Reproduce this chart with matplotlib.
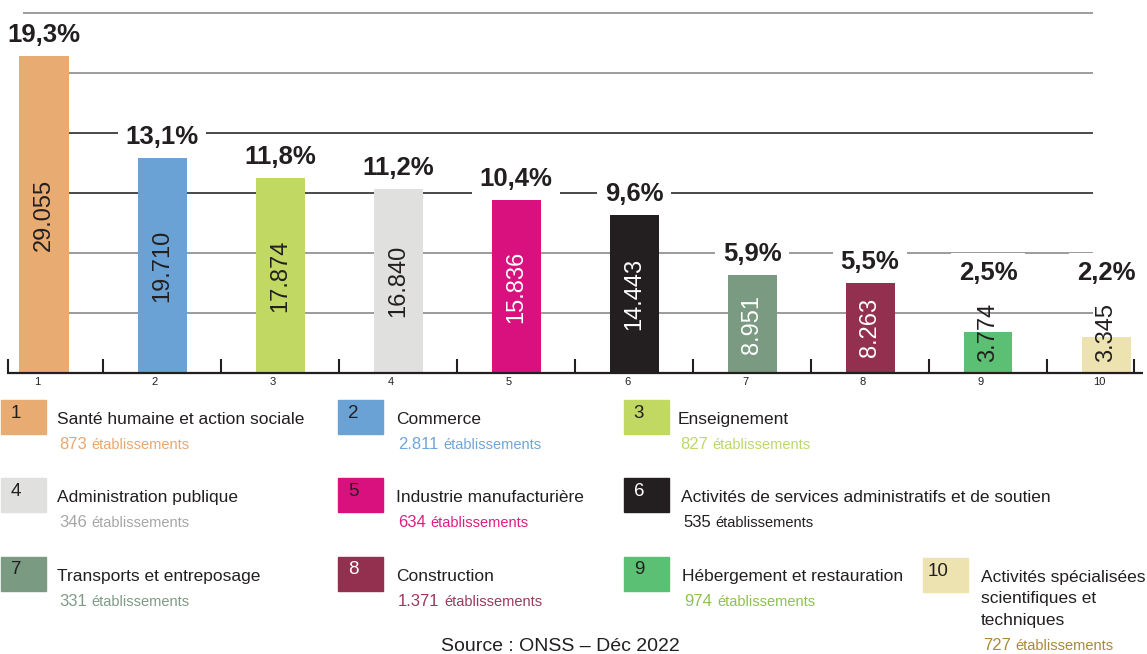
import numpy as np
import matplotlib
matplotlib.use("Agg")
import matplotlib.pyplot as plt
from matplotlib.patches import Rectangle

plt.rcParams['font.family'] = ['Liberation Sans', 'DejaVu Sans']

sectors = ['Santé humaine et action sociale', 'Commerce', 'Enseignement',
           'Administration publique', 'Industrie manufacturière',
           'Activités de services administratifs et de soutien',
           'Transports et entreposage', 'Construction',
           'Hébergement et restauration',
           'Activités spécialisées\nscientifiques et\ntechniques']
employees = [29055, 19710, 17874, 16840, 15836, 14443, 8951, 8263, 3774, 3345]
shares = [19.3, 13.1, 11.8, 11.2, 10.4, 9.6, 5.9, 5.5, 2.5, 2.2]
establishments = [873, 2811, 827, 346, 634, 535, 331, 1371, 974, 727]

bar_colors = ['#E8AC72', '#6AA2D6', '#C1D962', '#E0E0DF', '#D8117E',
              '#231F20', '#7A9A82', '#93304F', '#5BBF74', '#EDE3B1']
count_colors = ['#EBA66F', '#6FA5DA', '#BCD86A', '#A6A6A6', '#DC1E85',
                '#231F20', '#7E9B85', '#9A3A58', '#8DC150', '#A98838']
value_colors = ['#231F20'] * 4 + ['white'] * 4 + ['#231F20'] * 2
box_num_colors = ['#231F20'] * 5 + ['white', '#231F20', 'white', '#231F20', '#231F20']
dark = '#231F20'

W, H = 1147, 654
fig = plt.figure(figsize=(W / 100, H / 100), dpi=100)

# chart area: baseline 373 px from the top
base_px = 373
step_px, first_px = 118.0, 44.0
px_per_unit = 60 / 5500
ax = fig.add_axes([0, 1 - base_px / H, 1, base_px / H])
ax.set_axis_off()
ax.set_xlim(-first_px / step_px, (W - first_px) / step_px)
ax.set_ylim(0, base_px / px_per_unit)

x = np.arange(len(employees))
ax.bar(x, employees, width=49 / step_px, color=bar_colors, zorder=3)

# horizontal rules (bottom to top)
grid_colors = ['#8a8a8a', '#8a8a8a', '#2b2b2b', '#2b2b2b', '#8c8c8c', '#8c8c8c']
for k, c in enumerate(grid_colors, 1):
    ax.hlines(5500 * k, (23 - first_px) / step_px, (1093 - first_px) / step_px,
              color=c, lw=1.2, zorder=1)

# base axis with ticks between bars
ax.hlines(0, (7 - first_px) / step_px, (1143 - first_px) / step_px,
          color=dark, lw=1.6, zorder=5, clip_on=False)
tick_x = [(8 - first_px) / step_px] + list(x[:-1] + 0.5) + [(1134 - first_px) / step_px]
ax.vlines(tick_x, 0, 14 / px_per_unit, color=dark, lw=1.5, zorder=5, clip_on=False)
for i in x:
    ax.annotate(str(i + 1), (i, 0), xytext=(-5, -3), textcoords='offset points',
                ha='center', va='top', fontsize=8, color=dark, annotation_clip=False)

for i, (v, s) in enumerate(zip(employees, shares)):
    h_px = v * px_per_unit
    label = f'{v:,}'.replace(',', '.')
    if h_px > 80:
        ax.text(i, v / 2, label, rotation=90, ha='center', va='center',
                fontsize=17, color=value_colors[i], zorder=6)
    else:
        ax.text(i, 11 / px_per_unit, label, rotation=90, ha='center', va='bottom',
                fontsize=17, color=value_colors[i], zorder=6)
    top_px = max(h_px + 21, 100)
    ax.text(i, top_px / px_per_unit, f'{s:.1f}%'.replace('.', ','),
            ha='center', va='center', fontsize=18.5, fontweight='bold', color=dark,
            bbox=dict(boxstyle='square,pad=0.3', fc='white', ec='none'), zorder=2)

# legend block (pixel layout)
box_x = [1, 338, 624, 1, 338, 624, 1, 338, 624, 923]
box_y = [400, 400, 400, 478, 478, 478, 557, 557, 557, 558]
text_x = [57, 396, 678, 57, 396, 681, 57, 396, 682, 981]


def fx(px):
    return px / W


def fy(py):
    return 1 - py / H


renderer = fig.canvas.get_renderer()
for i, name in enumerate(sectors):
    bx, by = box_x[i], box_y[i]
    fig.add_artist(Rectangle((fx(bx), fy(by + 34)), 45 / W, 34 / H,
                             transform=fig.transFigure, color=bar_colors[i]))
    fig.text(fx(bx + 15), fy(by + 13), str(i + 1), ha='center', va='center',
             fontsize=13.5, color=box_num_colors[i])
    lines = name.split('\n')
    base = by + 24
    for j, line in enumerate(lines):
        fig.text(fx(text_x[i]), fy(base + j * 21.5), line, ha='left', va='baseline',
                 fontsize=12.5, color=dark)
    sub_base = base + (len(lines) - 1) * 21.5 + 25
    num = fig.text(fx(text_x[i] + 2), fy(sub_base), f'{establishments[i]:,}'.replace(',', '.'),
                   ha='left', va='baseline', fontsize=12, color=count_colors[i])
    bb = num.get_window_extent(renderer=renderer)
    fig.text(fx(bb.x1 + 5), fy(sub_base), 'établissements', ha='left', va='baseline',
             fontsize=10.5, color=count_colors[i])

fig.text(fx(560), fy(651), 'Source : ONSS – Déc 2022', ha='center', va='baseline',
         fontsize=14, color=dark)

fig.savefig('out.png', dpi=100, facecolor='white')
